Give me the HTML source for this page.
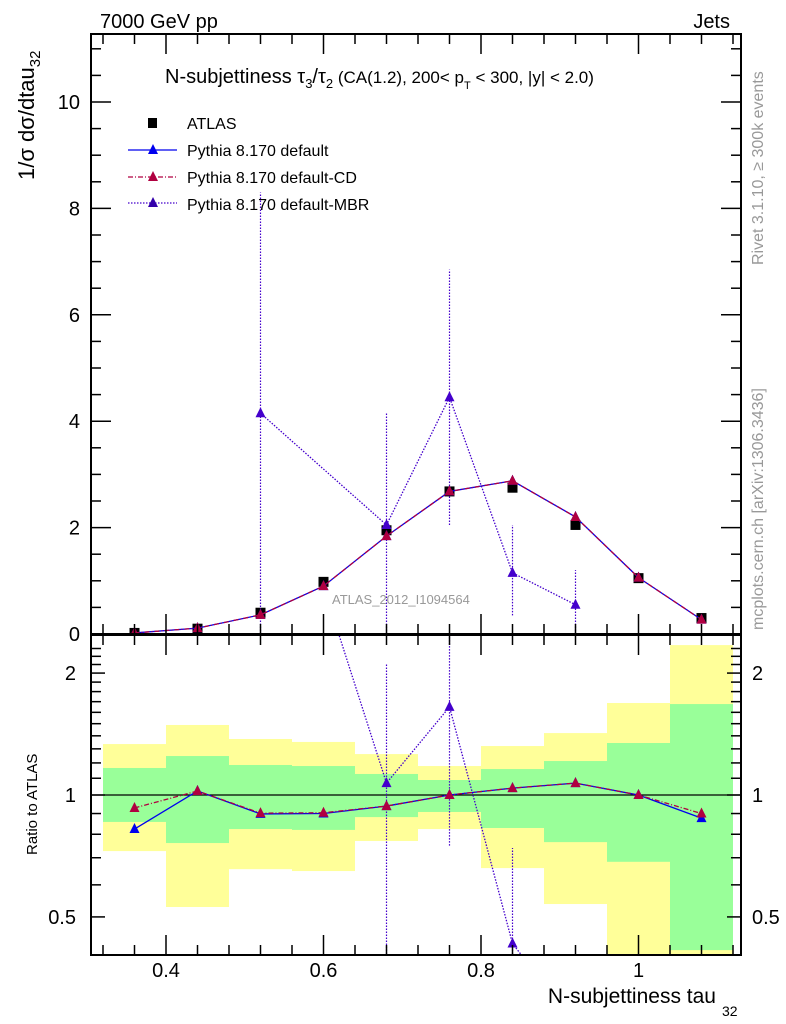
<!DOCTYPE html>
<html><head><meta charset="utf-8"><style>
html,body{margin:0;padding:0;background:#fff;width:786px;height:1024px;overflow:hidden}
svg{display:block;font-family:"Liberation Sans",sans-serif}
</style></head><body>
<svg id="chart" width="786" height="1024" viewBox="0 0 786 1024" xmlns="http://www.w3.org/2000/svg">
<defs>
<clipPath id="cm"><rect x="91" y="34" width="650" height="600"/></clipPath>
<clipPath id="cr"><rect x="91" y="635" width="650" height="320"/></clipPath>
</defs>
<g id="bands" clip-path="url(#cr)"></g>
<g id="gmain"></g>
<g id="gratio"></g>
<g id="axes"></g>
<text x="100" y="28" font-size="20">7000 GeV pp</text>
<text x="730" y="28" font-size="20" text-anchor="end">Jets</text>
<text x="165" y="83" font-size="20">N-subjettiness τ<tspan font-size="13" dy="5">3</tspan><tspan dy="-5">/τ</tspan><tspan font-size="13" dy="5">2</tspan><tspan dy="-5" font-size="17"> (CA(1.2), 200&lt; p</tspan><tspan font-size="11" dy="6">T</tspan><tspan font-size="17" dy="-6"> &lt; 300, |y| &lt; 2.0)</tspan></text>
<g font-size="16">
<rect x="148" y="118" width="9" height="10" fill="#000"/>
<text x="187" y="129">ATLAS</text>
<line x1="128" y1="150" x2="177" y2="150" stroke="#0000ee" stroke-width="1.3"/>
<polygon points="153,144 148,154 158,154" fill="#0000ee"/>
<text x="187" y="156">Pythia 8.170 default</text>
<line x1="128" y1="177" x2="177" y2="177" stroke="#b00040" stroke-width="1.3" stroke-dasharray="5,2,1,2"/>
<polygon points="153,171 148,181 158,181" fill="#b00040"/>
<text x="187" y="183">Pythia 8.170 default-CD</text>
<line x1="128" y1="203" x2="177" y2="203" stroke="#4400cc" stroke-width="1.3" stroke-dasharray="1.5,1.5"/>
<polygon points="153,197 148,207 158,207" fill="#3300aa"/>
<text x="187" y="210">Pythia 8.170 default-MBR</text>
</g>
<text x="332" y="604" font-size="13" fill="#999">ATLAS_2012_I1094564</text>
<text transform="translate(763,265) rotate(-90)" font-size="16" fill="#999">Rivet 3.1.10, ≥ 300k events</text>
<text transform="translate(763,630) rotate(-90)" font-size="16" fill="#999">mcplots.cern.ch [arXiv:1306.3436]</text>
<text transform="translate(34,180) rotate(-90)" font-size="22">1/σ dσ/dtau<tspan font-size="15" dy="6">32</tspan></text>
<text transform="translate(37,855) rotate(-90)" font-size="15">Ratio to ATLAS</text>
<text x="716" y="1003" font-size="21" text-anchor="end">N-subjettiness tau</text>
<text x="722" y="1016" font-size="14">32</text>
<script>
const centers=[0.36,0.44,0.52,0.60,0.68,0.76,0.84,0.92,1.00,1.08];
const atlas=[0.02,0.10,0.40,0.98,1.95,2.68,2.75,2.05,1.05,0.30];
const pyDefault=[0.02,0.11,0.36,0.90,1.84,2.68,2.88,2.20,1.06,0.27];
const pyCD=[0.02,0.11,0.36,0.90,1.84,2.68,2.88,2.20,1.06,0.27];
const pyMBR=[null,null,4.15,null,2.05,4.45,1.15,0.55,null,null];
const mbrLo=[null,null,0,null,0,2.05,0.35,0,null,null];
const mbrHi=[null,null,8.3,null,4.15,6.85,2.05,1.2,null,null];
const ratioDefault=[0.824,1.023,0.898,0.900,0.939,1.0,1.04,1.07,1.0,0.877];
const ratioCD=[0.929,1.023,0.902,0.904,0.939,1.0,1.04,1.07,1.0,0.90];
const ratioMBR=[null,null,10,null,1.07,1.65,0.43,0.27,null,null];
const ratioMBRLo=[null,null,null,null,0.01,0.75,0.1,null,null,null];
const ratioMBRHi=[null,null,null,null,2.1,3.0,0.74,null,null,null];
const yellowHi=[1.336,1.489,1.375,1.352,1.262,1.179,1.321,1.422,1.687,2.345];
const yellowLo=[0.727,0.529,0.656,0.649,0.770,0.824,0.660,0.538,0.30,0.30];
const greenHi=[1.166,1.248,1.186,1.179,1.127,1.089,1.159,1.213,1.344,1.677];
const greenLo=[0.858,0.761,0.824,0.820,0.882,0.908,0.829,0.765,0.684,0.414];
const mainTicks=[0,2,4,6,8,10];
const xTicks=[0.4,0.6,0.8,1];
const ratioTicks=[0.5,1,2];
const binW=0.08;

const NS="http://www.w3.org/2000/svg";
const X=v=>166+(v-0.4)*787.5;
const Y=v=>634-v*53.2;
const R=v=>795-Math.log10(v)*405;
function mk(p,tag,at){const e=document.createElementNS(NS,tag);for(const k in at)e.setAttribute(k,at[k]);p.appendChild(e);return e;}
const bands=document.getElementById('bands'),gm=document.getElementById('gmain'),gr=document.getElementById('gratio'),ax=document.getElementById('axes');
gm.setAttribute('clip-path','url(#cm)');gr.setAttribute('clip-path','url(#cr)');
centers.forEach((c,i)=>{
 const x0=X(c-binW/2),x1=X(c+binW/2);
 let r=mk(bands,'rect',{x:x0,y:R(yellowHi[i]),width:x1-x0,height:R(yellowLo[i])-R(yellowHi[i]),fill:'#ffff99'});
 
 
 r=mk(bands,'rect',{x:x0,y:R(greenHi[i]),width:x1-x0,height:R(greenLo[i])-R(greenHi[i]),fill:'#99ff99'});
 
 
});
mk(gr,'line',{x1:91,x2:741,y1:R(1),y2:R(1),stroke:'#000','stroke-width':1.3});
function tri(g,x,y,col,name){const p=mk(g,'polygon',{points:`${x},${y-6} ${x-5},${y+4} ${x+5},${y+4}`,fill:col});
 
 }
function series(g,vals,fy,col,dash,name){
 let pts=[];vals.forEach((v,i)=>{if(v!==null)pts.push(X(centers[i])+','+fy(v));});
 const pl=mk(g,'polyline',{points:pts.join(' '),fill:'none',stroke:col,'stroke-width':1.3});
 if(dash)pl.setAttribute('stroke-dasharray',dash);
 
 
 vals.forEach((v,i)=>{if(v!==null)tri(g,X(centers[i]),fy(v),col,name+'-point');});
}
atlas.forEach((v,i)=>{const s=mk(gm,'rect',{x:X(centers[i])-5,y:Y(v)-5,width:10,height:10,fill:'#000'});
 
 });
centers.forEach((c,i)=>{if(mbrLo[i]!==null){const e=mk(gm,'line',{x1:X(c),x2:X(c),y1:Y(mbrLo[i]),y2:Y(mbrHi[i]),stroke:'#4400cc','stroke-width':1.2,'stroke-dasharray':'1.5,1.5'});
 
 }
 if(ratioMBRLo[i]!==null){const e=mk(gr,'line',{x1:X(c),x2:X(c),y1:R(ratioMBRLo[i]),y2:R(ratioMBRHi[i]),stroke:'#4400cc','stroke-width':1.2,'stroke-dasharray':'1.5,1.5'});
 
 }});
series(gm,pyMBR,Y,'#4400cc','1.5,1.5','mbr');
series(gm,pyDefault,Y,'#0000ee',null,'default');
series(gm,pyCD,Y,'#b00040','5,2,1,2','cd');
series(gr,ratioMBR,R,'#4400cc','1.5,1.5','mbr-ratio');
series(gr,ratioDefault,R,'#0000ee',null,'default-ratio');
series(gr,ratioCD,R,'#b00040','5,2,1,2','cd-ratio');
mk(ax,'rect',{x:91,y:34,width:650,height:600,fill:'none',stroke:'#000','stroke-width':2});
mk(ax,'rect',{x:91,y:635,width:650,height:320,fill:'none',stroke:'#000','stroke-width':2});
for(let v=0;v<=11;v+=0.5){const maj=Math.abs(v%2)<1e-9,l=maj?20:10;
 mk(ax,'line',{x1:91,x2:91+l,y1:Y(v),y2:Y(v),stroke:'#000','stroke-width':1.5});
 mk(ax,'line',{x1:741,x2:741-l,y1:Y(v),y2:Y(v),stroke:'#000','stroke-width':1.5});}
mainTicks.forEach(v=>{const t=mk(ax,'text',{x:80,y:Y(v)+7,'font-size':20,'text-anchor':'end'});t.textContent=v;
 
 });
for(let k=0;k<=21;k++){const v=0.32+k*0.04;const maj=xTicks.some(t=>Math.abs(t-v)<1e-6),l=maj?20:10;const x=X(v);if(x<92||x>740)continue;
 [[34,1],[634,-1],[635,1],[955,-1]].forEach(([y,d])=>mk(ax,'line',{x1:x,x2:x,y1:y,y2:y+d*l,stroke:'#000','stroke-width':1.5}));}
xTicks.forEach(v=>{const t=mk(ax,'text',{x:X(v),y:977,'font-size':20,'text-anchor':'middle'});t.textContent=v;
 
 });
[0.4,0.5,0.6,0.7,0.8,0.9,1,1.1,1.2,1.3,1.4,1.5,1.6,1.7,1.8,1.9,2,2.1,2.2,2.3].forEach(v=>{const maj=ratioTicks.includes(v),l=maj?14:10,y=R(v);if(y<636||y>954)return;
 mk(ax,'line',{x1:91,x2:91+l,y1:y,y2:y,stroke:'#000','stroke-width':1.5});
 mk(ax,'line',{x1:741,x2:741-l,y1:y,y2:y,stroke:'#000','stroke-width':1.5});});
ratioTicks.forEach(v=>{[[76,'end'],[752,'start']].forEach(([x,a])=>{const t=mk(ax,'text',{x:x,y:R(v)+7,'font-size':20,'text-anchor':a});t.textContent=v;
 
 });});
</script>
</svg>
</body></html>
